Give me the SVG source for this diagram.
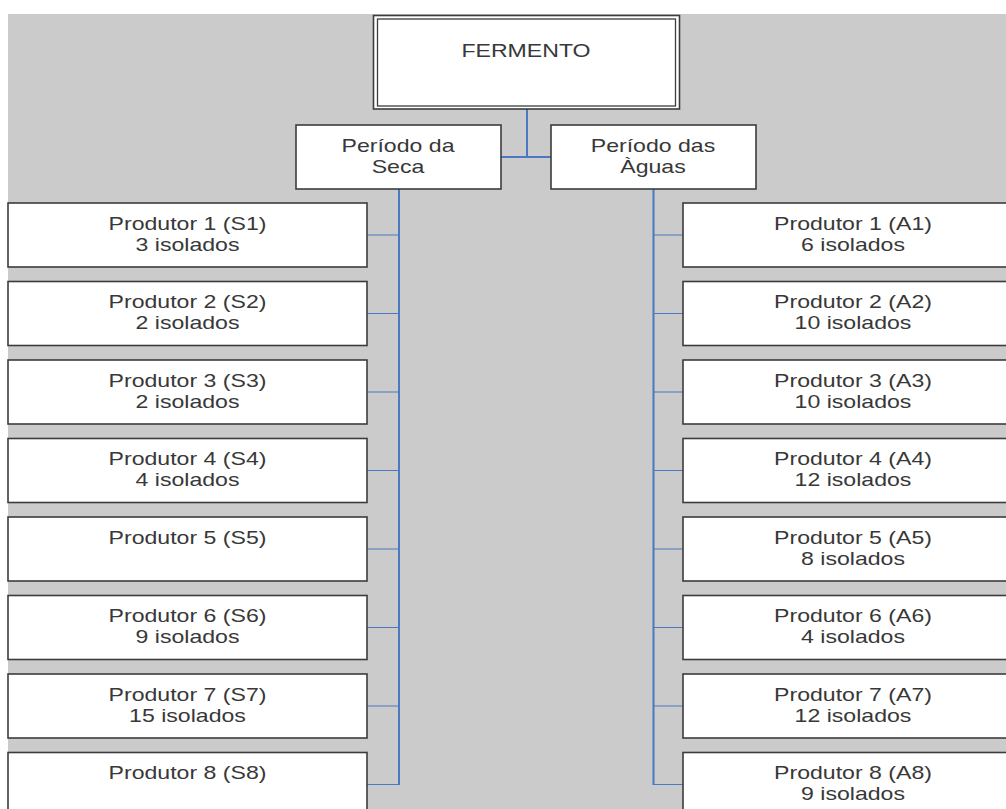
<svg xmlns="http://www.w3.org/2000/svg" width="1006" height="809" viewBox="0 0 1006 809">
<style>
.box{fill:#ffffff;stroke:#3c3c3c;stroke-width:1.6}
.t{font-family:"Liberation Sans",Arial,sans-serif;font-size:17.5px;fill:#383838;text-anchor:middle}
.bus{stroke:#4a78c2;stroke-width:2;fill:none}
.tick{stroke:#4a78c2;stroke-width:1.2;fill:none}
</style>
<rect x="0" y="0" width="1006" height="809" fill="#ffffff"/>
<rect x="8" y="14" width="998" height="795" fill="#cbcbcb"/>
<g id="connectors">
<path class="bus" d="M527 109 V157 M501 157 H551"/>
<path class="bus" d="M399 189 V785"/>
<path class="bus" d="M653.5 189 V785"/>
<path class="tick" d="M367 235 H399 M367 313.5 H399 M367 392 H399 M367 470.5 H399 M367 549 H399 M367 627.5 H399 M367 706 H399 M367 784.5 H399"/>
<path class="tick" d="M653.5 235 H683 M653.5 313.5 H683 M653.5 392 H683 M653.5 470.5 H683 M653.5 549 H683 M653.5 627.5 H683 M653.5 706 H683 M653.5 784.5 H683"/>
</g>
<g id="fermento">
<rect x="373.5" y="15.5" width="306" height="93.5" fill="#ffffff" stroke="#3c3c3c" stroke-width="1.6"/>
<rect x="377.5" y="19" width="298" height="87" fill="none" stroke="#3c3c3c" stroke-width="1.3"/>
<text class="t" transform="translate(526 57) scale(1.32 1)">FERMENTO</text>
</g>
<g id="seca">
<rect class="box" x="296" y="125" width="205" height="64"/>
<text class="t" transform="translate(398 151.5) scale(1.32 1)">Período da<tspan x="0" dy="21.5">Seca</tspan></text>
</g>
<g id="aguas">
<rect class="box" x="551" y="125" width="205" height="64"/>
<text class="t" transform="translate(653 151.5) scale(1.32 1)">Período das<tspan x="0" dy="21.5">Àguas</tspan></text>
</g>
<g id="s1"><rect class="box" x="8" y="203" width="359" height="64"/><text class="t" transform="translate(187.5 229.5) scale(1.32 1)">Produtor 1 (S1)<tspan x="0" dy="21.5">3 isolados</tspan></text></g>
<g id="s2"><rect class="box" x="8" y="281.5" width="359" height="64"/><text class="t" transform="translate(187.5 308) scale(1.32 1)">Produtor 2 (S2)<tspan x="0" dy="21.5">2 isolados</tspan></text></g>
<g id="s3"><rect class="box" x="8" y="360" width="359" height="64"/><text class="t" transform="translate(187.5 386.5) scale(1.32 1)">Produtor 3 (S3)<tspan x="0" dy="21.5">2 isolados</tspan></text></g>
<g id="s4"><rect class="box" x="8" y="438.5" width="359" height="64"/><text class="t" transform="translate(187.5 465) scale(1.32 1)">Produtor 4 (S4)<tspan x="0" dy="21.5">4 isolados</tspan></text></g>
<g id="s5"><rect class="box" x="8" y="517" width="359" height="64"/><text class="t" transform="translate(187.5 543.5) scale(1.32 1)">Produtor 5 (S5)</text></g>
<g id="s6"><rect class="box" x="8" y="595.5" width="359" height="64"/><text class="t" transform="translate(187.5 622) scale(1.32 1)">Produtor 6 (S6)<tspan x="0" dy="21.5">9 isolados</tspan></text></g>
<g id="s7"><rect class="box" x="8" y="674" width="359" height="64"/><text class="t" transform="translate(187.5 700.5) scale(1.32 1)">Produtor 7 (S7)<tspan x="0" dy="21.5">15 isolados</tspan></text></g>
<g id="s8"><rect class="box" x="8" y="752.5" width="359" height="64"/><text class="t" transform="translate(187.5 779) scale(1.32 1)">Produtor 8 (S8)</text></g>
<g id="a1"><rect class="box" x="683" y="203" width="340" height="64"/><text class="t" transform="translate(853 229.5) scale(1.32 1)">Produtor 1 (A1)<tspan x="0" dy="21.5">6 isolados</tspan></text></g>
<g id="a2"><rect class="box" x="683" y="281.5" width="340" height="64"/><text class="t" transform="translate(853 308) scale(1.32 1)">Produtor 2 (A2)<tspan x="0" dy="21.5">10 isolados</tspan></text></g>
<g id="a3"><rect class="box" x="683" y="360" width="340" height="64"/><text class="t" transform="translate(853 386.5) scale(1.32 1)">Produtor 3 (A3)<tspan x="0" dy="21.5">10 isolados</tspan></text></g>
<g id="a4"><rect class="box" x="683" y="438.5" width="340" height="64"/><text class="t" transform="translate(853 465) scale(1.32 1)">Produtor 4 (A4)<tspan x="0" dy="21.5">12 isolados</tspan></text></g>
<g id="a5"><rect class="box" x="683" y="517" width="340" height="64"/><text class="t" transform="translate(853 543.5) scale(1.32 1)">Produtor 5 (A5)<tspan x="0" dy="21.5">8 isolados</tspan></text></g>
<g id="a6"><rect class="box" x="683" y="595.5" width="340" height="64"/><text class="t" transform="translate(853 622) scale(1.32 1)">Produtor 6 (A6)<tspan x="0" dy="21.5">4 isolados</tspan></text></g>
<g id="a7"><rect class="box" x="683" y="674" width="340" height="64"/><text class="t" transform="translate(853 700.5) scale(1.32 1)">Produtor 7 (A7)<tspan x="0" dy="21.5">12 isolados</tspan></text></g>
<g id="a8"><rect class="box" x="683" y="752.5" width="340" height="64"/><text class="t" transform="translate(853 779) scale(1.32 1)">Produtor 8 (A8)<tspan x="0" dy="21.5">9 isolados</tspan></text></g>
</svg>
